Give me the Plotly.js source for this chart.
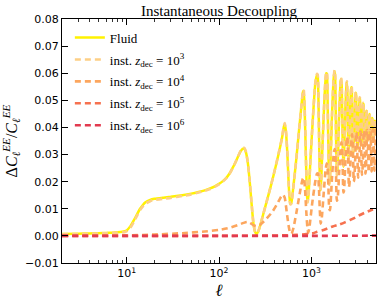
<!DOCTYPE html>
<html>
<head>
<meta charset="utf-8">
<script src="https://cdn.plot.ly/plotly-3.0.1.min.js"></script>
<style>html,body{margin:0;padding:0;background:#fff;}#chart{width:381px;height:302px;}</style>
</head>
<body>
<div id="chart"></div>
<script>
// multipole grid shared by the Fluid and z_dec=1e3 curves
const ell = [
  2,3,4,5,6,7,8,9,10,11,12,13,14,15,16,18,20,25,30,40,
  50,60,70,80,90,100,110,120,130,140,150,160,170,180,188,195,205,215,225,235,
  245,255,265,280,300,330,360,400,440,480,505,515,530,550,570,590,605,630,680,730,
  780,810,825,845,870,895,910,930,980,1040,1100,1150,1170,1195,1225,1245,1265,1320,1390,1445,
  1470,1500,1535,1560,1590,1660,1740,1780,1805,1840,1880,1910,1990,2070,2100,2130,2170,2210,2240,2320,
  2400,2425,2455,2500,2530,2600,2700,2725,2760,2810,2840,2930,3010,3035,3080,3120,3160,3250,3320,3350,
  3400,3440,3490,3570,3630,3660,3710,3750,3800,3880,3930,3960,4010,4060,4110,4190,4240,4270,4320,4370,
  4420,4500,4540,4570,4620,4680,4730,4810,4850,4880,4940,5000
];
const fluid = [
  0.0007,0.0008,0.0009,0.0010,0.0011,0.0012,0.0013,0.0015,0.0020,0.0036,0.0058,0.0080,0.0100,0.0114,0.0124,0.0133,0.0137,0.0141,0.0144,0.0150,
  0.0156,0.0162,0.0168,0.0175,0.0183,0.0192,0.0202,0.0214,0.0230,0.0250,0.0270,0.0291,0.0310,0.0321,0.0322,0.0310,0.0270,0.0200,0.0120,0.0050,
  0.0015,0.0007,0.0015,0.0040,0.0078,0.0130,0.0178,0.0240,0.0300,0.0360,0.0405,0.0412,0.0385,0.0300,0.0180,0.0118,0.0120,0.0165,0.0270,0.0380,
  0.0480,0.0530,0.0535,0.0470,0.0300,0.0150,0.0125,0.0150,0.0290,0.0440,0.0560,0.0594,0.0590,0.0480,0.0260,0.0168,0.0180,0.0340,0.0520,0.0600,
  0.0598,0.0480,0.0280,0.0190,0.0220,0.0420,0.0580,0.0607,0.0590,0.0420,0.0225,0.0240,0.0430,0.0570,0.0580,0.0550,0.0380,0.0255,0.0270,0.0450,
  0.0560,0.0566,0.0520,0.0320,0.0280,0.0420,0.0548,0.0548,0.0470,0.0305,0.0310,0.0440,0.0528,0.0525,0.0430,0.0320,0.0330,0.0440,0.0508,0.0505,
  0.0400,0.0335,0.0350,0.0440,0.0488,0.0485,0.0390,0.0345,0.0360,0.0440,0.0462,0.0458,0.0385,0.0352,0.0365,0.0430,0.0450,0.0446,0.0380,0.0358,
  0.0370,0.0425,0.0435,0.0432,0.0385,0.0362,0.0375,0.0420,0.0425,0.0420,0.0385,0.0370
];
const z3 = [
  0.0006,0.0007,0.0008,0.0009,0.0010,0.0011,0.0012,0.0013,0.0017,0.0030,0.0052,0.0075,0.0095,0.0109,0.0119,0.0128,0.0132,0.0137,0.0140,0.0147,
  0.0153,0.0160,0.0166,0.0173,0.0181,0.0190,0.0200,0.0213,0.0229,0.0249,0.0270,0.0292,0.0312,0.0324,0.0325,0.0312,0.0272,0.0202,0.0122,0.0052,
  0.0017,0.0009,0.0016,0.0040,0.0078,0.0130,0.0178,0.0241,0.0302,0.0362,0.0408,0.0416,0.0388,0.0302,0.0182,0.0117,0.0118,0.0163,0.0269,0.0380,
  0.0481,0.0533,0.0539,0.0474,0.0302,0.0150,0.0123,0.0148,0.0289,0.0441,0.0562,0.0598,0.0595,0.0484,0.0262,0.0166,0.0178,0.0339,0.0521,0.0604,
  0.0603,0.0484,0.0282,0.0188,0.0218,0.0420,0.0582,0.0611,0.0595,0.0424,0.0223,0.0238,0.0430,0.0572,0.0584,0.0555,0.0383,0.0253,0.0268,0.0450,
  0.0563,0.0570,0.0524,0.0322,0.0278,0.0420,0.0551,0.0552,0.0474,0.0307,0.0308,0.0440,0.0531,0.0529,0.0433,0.0322,0.0328,0.0440,0.0511,0.0509,
  0.0403,0.0333,0.0348,0.0440,0.0491,0.0489,0.0393,0.0343,0.0358,0.0440,0.0465,0.0462,0.0388,0.0350,0.0363,0.0431,0.0453,0.0450,0.0383,0.0356,
  0.0368,0.0426,0.0438,0.0436,0.0388,0.0360,0.0373,0.0421,0.0428,0.0424,0.0388,0.0368
];
// z_dec = 1e4
const ell4 = [
  2,5,10,20,40,70,100,130,160,185,200,215,235,252,275,320,380,430,470,495,
  515,540,565,590,610,640,700,760,805,825,850,880,905,925,950,1020,1100,1150,1175,1205,
  1235,1260,1290,1360,1430,1465,1490,1525,1560,1590,1660,1740,1785,1810,1850,1885,1920,2000,2080,2110,
  2140,2180,2220,2250,2330,2410,2440,2470,2510,2545,2580,2660,2730,2760,2800,2840,2870,2910,2990,3050,
  3080,3120,3160,3200,3240,3320,3370,3400,3440,3480,3520,3560,3640,3690,3720,3760,3800,3840,3880,3960,
  4010,4040,4080,4120,4160,4200,4280,4330,4360,4400,4440,4480,4520,4600,4650,4680,4720,4760,4800,4840,
  4920,4970,5000
];
const z4 = [
  0.0001,0.0001,0.0002,0.0005,0.0010,0.0016,0.0022,0.0030,0.0040,0.0048,0.0051,0.0049,0.0040,0.0036,0.0040,0.0060,0.0090,0.0120,0.0145,0.0152,
  0.0140,0.0090,0.0040,0.0010,0.0008,0.0030,0.0100,0.0170,0.0210,0.0215,0.0180,0.0090,0.0030,0.0012,0.0030,0.0120,0.0200,0.0230,0.0230,0.0180,
  0.0090,0.0045,0.0060,0.0160,0.0250,0.0268,0.0260,0.0190,0.0100,0.0095,0.0200,0.0300,0.0320,0.0310,0.0220,0.0130,0.0135,0.0240,0.0330,0.0345,
  0.0330,0.0250,0.0160,0.0165,0.0270,0.0355,0.0365,0.0345,0.0260,0.0180,0.0190,0.0290,0.0370,0.0375,0.0340,0.0260,0.0200,0.0210,0.0300,0.0380,
  0.0382,0.0340,0.0270,0.0215,0.0225,0.0310,0.0385,0.0385,0.0345,0.0280,0.0225,0.0235,0.0320,0.0388,0.0388,0.0350,0.0285,0.0230,0.0240,0.0325,
  0.0390,0.0390,0.0350,0.0290,0.0235,0.0245,0.0330,0.0390,0.0390,0.0350,0.0290,0.0238,0.0248,0.0330,0.0392,0.0390,0.0350,0.0290,0.0240,0.0250,
  0.0330,0.0390,0.0390
];
// z_dec = 1e5
const ell5 = [2,100,300,500,700,850,950,1050,1150,1300,1500,1700,2000,2300,2600,3000,3400,3800,4200,4600,5000];
const z5   = [0.0000,0.0000,0.0001,0.0002,0.0004,0.0006,0.0008,0.0010,0.0015,0.0020,0.0028,0.0035,0.0042,0.0050,0.0058,0.0068,0.0078,0.0086,0.0092,0.0097,0.0100];
// z_dec = 1e6
const ell6 = [2,10,100,1000,5000];
const z6   = [0.0000,0.0000,0.0000,0.0000,0.0001];

const names = [
  'Fluid',
  'inst. <i>z</i><sub>dec</sub> = 10<sup>3</sup>',
  'inst. <i>z</i><sub>dec</sub> = 10<sup>4</sup>',
  'inst. <i>z</i><sub>dec</sub> = 10<sup>5</sup>',
  'inst. <i>z</i><sub>dec</sub> = 10<sup>6</sup>'
];
const colors = ['#fff200', '#fdcf86', '#fca65e', '#f6714f', '#e23a4f'];
const yTicks = [-0.01,0,0.01,0.02,0.03,0.04,0.05,0.06,0.07,0.08];
const xTicks = [10,100,1000];
const xTickText = ['10<sup>1</sup>','10<sup>2</sup>','10<sup>3</sup>'];

const series = [[ell,fluid],[ell,z3],[ell4,z4],[ell5,z5],[ell6,z6]];
const traces = series.map((s,i) => ({
  x: s[0], y: s[1], type: 'scatter', mode: 'lines', name: names[i],
  legendgroup: 'g'+i,
  line: {color: colors[i], width: i===0 ? 2.5 : 2.6, dash: i===0 ? 'solid' : '6px,4px',
         shape: 'spline', smoothing: 0.5}
}));

const serif = 'Liberation Serif, Times New Roman, serif';
const layout = {
  width: 381, height: 302,
  margin: {l: 62, r: 5, t: 19, b: 39},
  paper_bgcolor: '#fff', plot_bgcolor: '#fff',
  showlegend: true,
  title: {text: 'Instantaneous Decoupling', font: {family: serif, size: 15, color: '#000'},
          x: 0.5, xref: 'paper', xanchor: 'center', y: 0.965, yref: 'container', yanchor: 'middle'},
  legend: {x: 0.025, y: 0.985, xanchor: 'left', yanchor: 'top', bgcolor: 'rgba(0,0,0,0)',
           font: {family: serif, size: 13, color: '#000'}, tracegroupgap: 2},
  xaxis: {
    type: 'log', range: [Math.log10(2), Math.log10(5000)],
    tickmode: 'array', tickvals: xTicks, ticktext: xTickText,
    ticks: 'inside', ticklen: 6, tickwidth: 1, tickcolor: '#000',
    minor: {ticks: 'inside', ticklen: 3, tickwidth: 0.8, tickcolor: '#000', dtick: 'D1', showgrid: false},
    showline: true, linecolor: '#000', linewidth: 1, mirror: 'allticks',
    showgrid: false, zeroline: false,
    tickfont: {family: 'DejaVu Sans', size: 11, color: '#000'},
    title: {text: '<i>ℓ</i>', font: {family: serif, size: 17, color: '#000'}, standoff: 4}
  },
  yaxis: {
    range: [-0.01, 0.08], tickmode: 'array', tickvals: yTicks, tickformat: '.2f',
    ticks: 'inside', ticklen: 6, tickwidth: 1, tickcolor: '#000',
    showline: true, linecolor: '#000', linewidth: 1, mirror: 'allticks',
    showgrid: false, zeroline: false,
    tickfont: {family: 'DejaVu Sans', size: 11, color: '#000'},
    title: {text: 'Δ<i>C</i><sub><i>ℓ</i></sub><sup><i>EE</i></sup>/<i>C</i><sub><i>ℓ</i></sub><sup><i>EE</i></sup>',
            font: {family: serif, size: 16, color: '#000'}, standoff: 6}
  }
};
Plotly.newPlot('chart', traces, layout, {displayModeBar: false, staticPlot: true});
</script>
</body>
</html>
